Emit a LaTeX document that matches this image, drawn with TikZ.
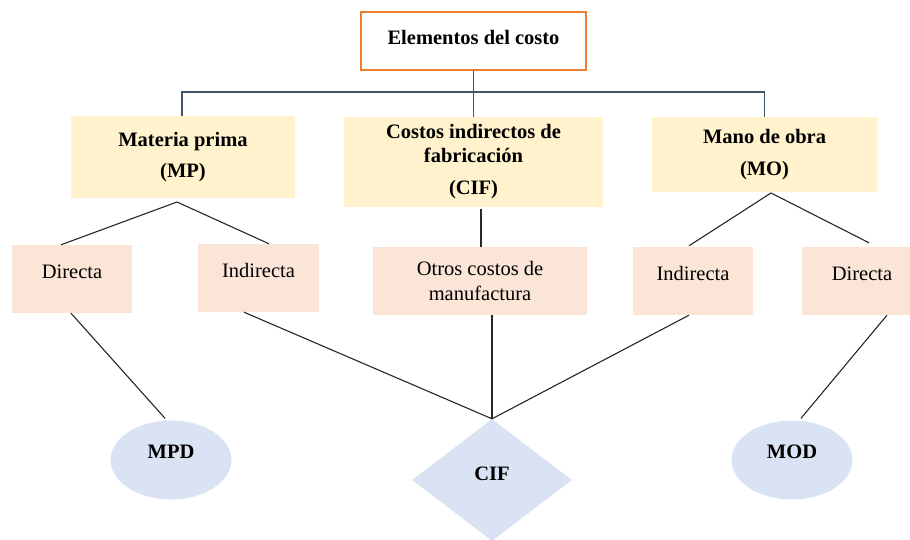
\documentclass[tikz,border=0pt]{standalone}
\usepackage{fontspec}
\setmainfont{Liberation Serif}
\usetikzlibrary{shapes.geometric,calc}
\definecolor{orangeB}{HTML}{ED7D31}
\definecolor{yellowF}{HTML}{FFF2CC}
\definecolor{peachF}{HTML}{FBE5D6}
\definecolor{blueF}{HTML}{DAE3F3}
\definecolor{busC}{HTML}{44546A}
\definecolor{linkC}{HTML}{262626}
\begin{document}
\begin{tikzpicture}[x=1pt,y=-1pt,
  every node/.style={font=\fontsize{20.5}{23.5}\selectfont, inner sep=0pt},
  titlebox/.style={draw=orangeB, line width=1.3pt, fill=white, minimum width=225pt, minimum height=58pt,
    font=\fontsize{20.5}{23.5}\selectfont\bfseries, text height=14pt, text depth=6pt},
  lvlone/.style={fill=yellowF, align=center, font=\fontsize{20.5}{23.5}\selectfont\bfseries},
  lvltwo/.style={fill=peachF, align=center, minimum height=68pt},
  single/.style={text height=14pt, text depth=16pt},
  ending/.style={fill=blueF, font=\fontsize{20.5}{23.5}\selectfont\bfseries},
  bus/.style={draw=busC, line width=1.4pt},
  link/.style={draw=linkC, line width=1.1pt}]
\clip (0,0) rectangle (910,540);

% top
\node[titlebox] (top) at (473.5,41) {Elementos del costo};

% level one
\node[lvlone, minimum width=224pt, minimum height=82pt] (MP) at (183,157) {Materia prima\\[8pt](MP)};
\node[lvlone, minimum width=259pt, minimum height=90pt] (CIF) at (473.5,162) {Costos indirectos de\\fabricación\\[9pt](CIF)};
\node[lvlone, minimum width=225pt, minimum height=75pt] (MO) at (764.5,154.5) {Mano de obra\\[8pt](MO)};

% level two
\node[lvltwo, single, minimum width=120pt] (DL) at (72,279) {Directa};
\node[lvltwo, single, minimum width=121pt] (IL) at (258.5,278) {Indirecta};
\node[lvltwo, minimum width=214pt] (OT) at (480,281) {Otros costos de\\[1.5pt]manufactura};
\node[lvltwo, single, minimum width=120pt] (IR) at (693,281) {Indirecta};
\node[lvltwo, single, minimum width=120pt] (DR) at (862,281) {Directa};

% endings
\node[ending, shape=ellipse, minimum width=121pt, minimum height=79pt, text height=14pt, text depth=18pt] (MPD) at (171,460) {MPD};
\node[ending, shape=diamond, minimum width=160pt, minimum height=122pt, text height=14pt, text depth=14pt] (CIFD) at (492,480) {CIF};
\node[ending, shape=ellipse, minimum width=121pt, minimum height=79pt, text height=14pt, text depth=18pt] (MOD) at (792,460) {MOD};

% bus from title
\coordinate (bus) at (473.5,92);
\draw[bus] (top.south) -- (CIF.north);
\draw[bus] (MP.north -| 182,0) |- (bus) -| (MO.north);

% links level one -> level two
\coordinate (mpApex) at (177,202);
\coordinate (moApex) at (771,193);
\draw[link] ([xshift=-11pt]DL.north) -- (mpApex) -- ([xshift=10.5pt]IL.north);
\draw[link] ([xshift=1pt,yshift=-2pt]CIF.south -| OT.north) -- ([xshift=1pt]OT.north);
\draw[link] ([xshift=-4pt,yshift=1pt]IR.north) -- (moApex) -- ([xshift=7pt,yshift=4pt]DR.north);

% links level two -> endings
\draw[link] ([xshift=-1pt]DL.south) -- ([xshift=-6pt,yshift=2pt]MPD.north);
\draw[link] ([xshift=-14.5pt]IL.south) -- (CIFD.north);
\draw[link] ([xshift=12pt]OT.south) -- (CIFD.north);
\draw[link] ([xshift=-4pt]IR.south) -- (CIFD.north);
\draw[link] ([xshift=25pt]DR.south) -- ([xshift=9pt,yshift=2pt]MOD.north);
\end{tikzpicture}
\end{document}
